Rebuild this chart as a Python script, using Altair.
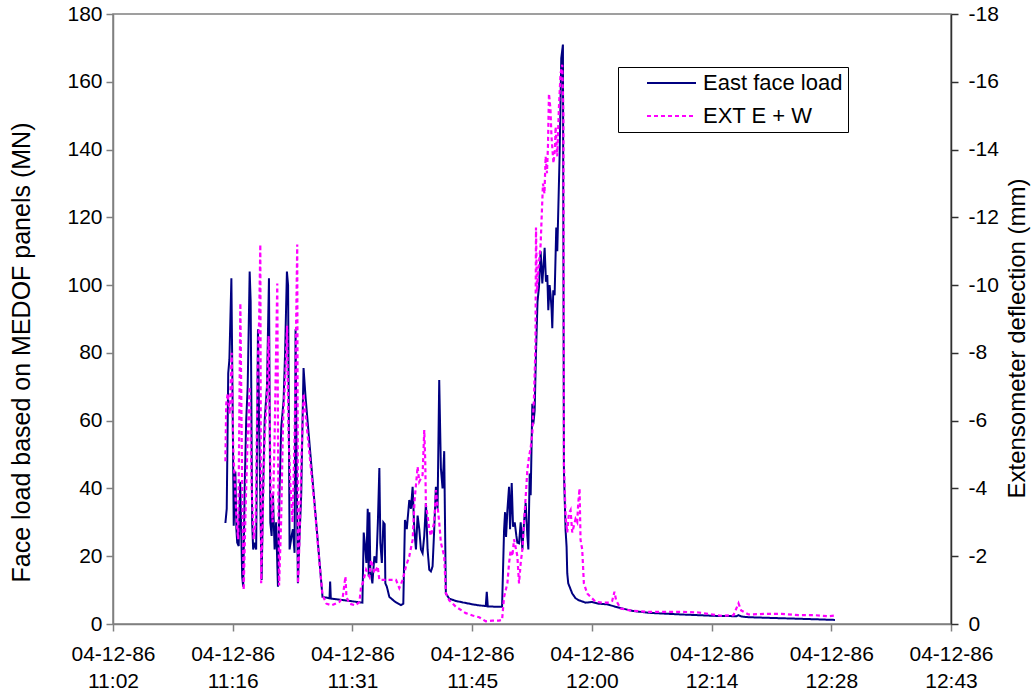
import altair as alt
import pandas as pd

# ---- axis ticks (minutes after 11:00) ----
TICK_TIMES = [2.4, 16.8, 31.2, 45.6, 60.0, 74.4, 88.8, 103.2]
TICK_LABELS = ["11:02", "11:16", "11:31", "11:45", "12:00", "12:14", "12:28", "12:43"]
DATE_LABEL = "04-12-86"
LEFT_TICKS = [0, 20, 40, 60, 80, 100, 120, 140, 160, 180]
RIGHT_TICKS = [-18, -16, -14, -12, -10, -8, -6, -4, -2, 0]

SERIES = ["East face load", "EXT E + W"]
COLORS = ["#000080", "#FF00FF"]

# ---- East face load (MN) ----
LOAD_T = [
    15.92, 16.08, 16.26, 16.40, 16.64, 16.80, 16.92, 17.04, 17.12, 17.24,
    17.34, 17.52, 17.70, 17.94, 18.06, 18.24, 18.42, 18.60, 18.84, 18.96,
    19.14, 19.26, 19.44, 19.62, 19.84, 19.98, 20.16, 20.28, 20.46, 20.64,
    20.92, 21.16, 21.32, 21.48, 21.64, 21.84, 22.02, 22.24, 22.44, 22.64,
    22.92, 23.10, 23.32, 23.46, 23.64, 23.88, 24.04, 24.24, 24.36, 24.48,
    24.64, 24.84, 25.04, 25.20, 25.32, 25.56, 27.60, 28.44, 28.52, 28.60,
    30.24, 32.40, 32.56, 32.76, 32.88, 33.04, 33.16, 33.24, 33.36, 33.60,
    33.84, 34.08, 34.26, 34.44, 34.56, 34.74, 34.92, 35.08, 35.16, 35.34,
    35.64, 36.36, 37.04, 37.32, 37.52, 37.74, 38.04, 38.24, 38.44, 38.64,
    38.84, 39.04, 39.24, 39.44, 39.64, 39.84, 40.04, 40.24, 40.44, 40.64,
    40.84, 41.04, 41.24, 41.44, 41.64, 41.84, 42.04, 42.24, 42.36, 42.44,
    42.84, 43.64, 44.84, 45.64, 46.44, 47.24, 47.36, 47.48, 48.44, 49.20,
    49.44, 49.56, 49.68, 49.84, 50.04, 50.16, 50.36, 50.52, 50.72, 50.92,
    51.04, 51.24, 51.44, 51.64, 51.84, 52.04, 52.24, 52.36, 52.52, 52.64,
    52.84, 52.96, 53.12, 53.28, 53.46, 53.64, 53.84, 54.04, 54.32, 54.48,
    54.64, 54.76, 54.92, 55.04, 55.16, 55.24, 55.36, 55.52, 55.72, 55.84,
    56.12, 56.32, 56.52, 56.64, 56.84, 56.96, 57.04, 57.16, 57.24, 57.64,
    58.04, 58.44, 59.24, 60.04, 60.84, 61.84, 62.84, 64.80, 66.84, 70.84,
    74.84, 77.40, 77.64, 78.00, 78.84, 82.84, 86.84, 89.24,
]
LOAD_MN = [
    29.8, 34, 74, 78, 102, 62, 29, 38, 45, 28,
    24, 23, 42, 14, 11, 40, 60, 70, 104, 95,
    30, 22, 24, 22, 87, 60, 30, 13, 40, 60,
    70, 102, 30, 26, 38, 22, 30, 11, 40, 58,
    66, 80, 104, 100, 22, 26, 28, 21, 87, 50,
    12, 26, 38, 60, 75.5, 67, 8, 7.6, 12.5, 7.5,
    7, 6.3, 27, 22, 18, 34, 14, 33, 16, 12,
    20, 18, 30, 46, 24, 18, 30, 29.5, 12, 11,
    8, 6.5, 5.6, 6, 30.7, 28, 36.6, 34, 40.5, 28,
    22, 32, 28, 22, 20.9, 26, 35.7, 22, 16, 15.5,
    17, 28, 40.5, 34, 72, 46, 40, 51, 25, 9,
    7.5, 6.8, 6.2, 5.8, 5.5, 5.3, 9.5, 5.2, 5.1, 5.1,
    27.7, 33, 25.7, 33.6, 40.5, 28, 41.6, 28.7, 30, 26,
    24, 23.8, 30, 22, 30, 35.7, 26, 22, 44.4, 38,
    65, 59, 63, 80, 95, 99.5, 110, 100.5, 111, 101,
    103, 92.6, 100, 97, 92.6, 87.3, 98.5, 97, 117, 110,
    138, 167, 171, 45, 27.7, 22.8, 15, 12, 11.5, 9,
    7.6, 7, 6.3, 6.5, 6, 5.8, 5.1, 3.9, 3.3, 2.8,
    2.4, 2.3, 2.6, 2.2, 2.0, 1.7, 1.4, 1.2,
]

# ---- Extensometer E + W deflection (mm) ----
EXT_T = [
    15.92, 16.02, 16.20, 16.44, 16.68, 16.86, 17.04, 17.28, 17.46, 17.72,
    17.94, 18.12, 18.36, 18.60, 18.84, 19.08, 19.32, 19.56, 19.80, 19.98,
    20.12, 20.22, 20.40, 20.64, 20.88, 21.12, 21.36, 21.60, 21.84, 22.16,
    22.26, 22.38, 22.62, 22.86, 23.10, 23.34, 23.52, 23.76, 24.00, 24.24,
    24.56, 24.66, 24.84, 25.08, 25.32, 25.56, 26.04, 26.64, 27.24, 27.60,
    28.08, 28.68, 29.64, 30.04, 30.36, 30.48, 30.84, 31.56, 32.04, 32.24,
    32.44, 32.84, 33.24, 33.44, 33.84, 34.24, 34.44, 34.84, 35.64, 36.44,
    36.84, 37.24, 37.64, 38.04, 38.44, 38.68, 39.04, 39.24, 39.64, 39.84,
    39.96, 40.04, 40.24, 40.44, 40.64, 41.04, 41.24, 41.64, 41.84, 42.04,
    42.24, 42.44, 42.84, 43.64, 44.84, 45.64, 46.44, 47.24, 48.04, 48.84,
    49.20, 49.44, 49.64, 49.84, 50.04, 50.24, 50.44, 50.64, 51.04, 51.24,
    51.44, 51.64, 51.84, 52.04, 52.24, 52.44, 52.64, 52.84, 53.04, 53.22,
    53.28, 53.40, 53.58, 53.84, 53.96, 54.12, 54.30, 54.44, 54.60, 54.72,
    54.84, 55.02, 55.14, 55.26, 55.38, 55.56, 55.64, 55.84, 56.04, 56.24,
    56.44, 56.58, 56.64, 56.84, 57.04, 57.24, 57.44, 57.64, 57.84, 58.04,
    58.24, 58.36, 58.52, 58.64, 58.84, 59.04, 59.44, 59.84, 60.44, 61.24,
    62.04, 62.44, 62.72, 62.92, 63.44, 64.80, 66.84, 70.84, 72.84, 74.84,
    75.64, 77.04, 77.64, 77.96, 78.84, 80.84, 82.84, 84.84, 86.84, 88.44,
    89.24,
]
EXT_MM = [
    -4.8, -6.5, -6.8, -6.2, -8.0, -5.2, -4.2, -3.0, -2.5, -9.47,
    -4.0, -1.0, -3.5, -5.5, -7.0, -4.0, -2.5, -3.0, -7.5, -9.0,
    -11.2, -1.2, -3.0, -5.5, -6.5, -8.5, -4.0, -3.0, -5.5, -10.05,
    -5.0, -1.14, -3.0, -6.0, -7.2, -8.8, -5.5, -4.0, -3.0, -5.5,
    -11.2, -1.2, -2.5, -5.0, -6.8, -6.2, -5.0, -3.5, -1.8, -0.85,
    -0.6, -0.55, -0.65, -0.8, -1.4, -0.8, -0.6, -0.55, -0.65, -1.1,
    -1.2, -1.6, -1.4, -1.89, -1.5, -1.7, -1.3, -1.3, -1.3, -1.3,
    -1.06, -1.3, -1.7, -2.0, -2.48, -3.66, -4.64, -4.2, -4.4, -5.72,
    -4.8, -3.5, -3.2, -2.8, -2.6, -3.0, -3.95, -3.0, -2.4, -2.2,
    -2.0, -0.91, -0.7, -0.51, -0.32, -0.25, -0.2, -0.08, -0.1, -0.1,
    -0.12, -0.8, -1.0, -1.2, -1.8, -2.18, -2.0, -2.5, -2.0, -1.2,
    -1.8, -2.2, -2.98, -3.75, -4.54, -4.93, -5.2, -5.63, -6.7, -8.2,
    -11.7, -9.8, -10.5, -11.2, -12.0, -13.0, -12.7, -13.8, -13.3, -14.1,
    -15.65, -15.2, -14.4, -14.0, -13.6, -14.0, -14.67, -13.8, -15.25, -16.25,
    -16.5, -15.0, -4.74, -3.16, -2.7, -3.26, -3.36, -2.7, -2.9, -3.1,
    -3.0, -3.56, -4.0, -2.48, -2.2, -1.2, -0.9, -0.8, -0.66, -0.63,
    -0.63, -0.68, -0.95, -0.7, -0.46, -0.39, -0.36, -0.36, -0.34, -0.27,
    -0.24, -0.26, -0.61, -0.4, -0.28, -0.3, -0.3, -0.26, -0.26, -0.23,
    -0.25,
]

FONT = "Liberation Sans"

load_df = pd.DataFrame({"t": LOAD_T, "v": LOAD_MN, "series": SERIES[0]})
ext_df = pd.DataFrame({"t": EXT_T, "v": EXT_MM, "series": SERIES[1]})

x_label_expr = (
    "['" + DATE_LABEL + "', ["
    + ",".join("'" + s + "'" for s in TICK_LABELS)
    + "][round((datum.value - 2.4) / 14.4)]]"
)

x_enc = alt.X(
    "t:Q",
    scale=alt.Scale(domain=[TICK_TIMES[0], TICK_TIMES[-1]], nice=False, zero=False),
    axis=alt.Axis(
        values=TICK_TIMES, labelExpr=x_label_expr, title=None,
        tickSize=7, labelPadding=12, labelLineHeight=27, labelOverlap=False,
        labelFlush=False, domainColor="#808080", tickColor="#808080",
        domainWidth=1.5, tickWidth=1.5, labelFontSize=21,
    ),
)

legend = alt.Legend(
    title=None, orient="none", legendX=505, legendY=53, direction="vertical",
    symbolType="stroke", symbolSize=2401, symbolStrokeWidth=2,
    labelFontSize=22, labelColor="black", padding=5, symbolOffset=23,
    labelOffset=6, rowPadding=11, strokeColor="black", fillColor="white",
    clipHeight=22,
)

color_enc = alt.Color("series:N", scale=alt.Scale(domain=SERIES, range=COLORS), legend=legend)
dash_enc = alt.StrokeDash("series:N", scale=alt.Scale(domain=SERIES, range=[[1, 0], [4, 3]]), legend=legend)

load_line = alt.Chart(load_df).mark_line(strokeWidth=2).encode(
    x=x_enc,
    y=alt.Y(
        "v:Q",
        scale=alt.Scale(domain=[0, 180], nice=False),
        axis=alt.Axis(
            orient="left", values=LEFT_TICKS, title="Face load based on MEDOF panels (MN)",
            tickSize=7, labelPadding=4, domainColor="#808080", tickColor="#808080",
            domainWidth=1.5, tickWidth=1.5, labelFontSize=21,
            titleAngle=270, titleX=-92, titleY=338, titleAlign="center",
            titleBaseline="middle", titleFontSize=25, titleFontWeight="normal",
        ),
    ),
    color=color_enc,
    strokeDash=dash_enc,
)

ext_line = alt.Chart(ext_df).mark_line(strokeWidth=2.2).encode(
    x=x_enc,
    y=alt.Y(
        "v:Q",
        scale=alt.Scale(domain=[-18, 0], reverse=True, nice=False, zero=False),
        axis=alt.Axis(
            orient="right", values=RIGHT_TICKS, labelExpr="'' + datum.value",
            title="Extensometer deflection (mm)",
            tickSize=7, labelPadding=10, domainColor="#303030", tickColor="#303030",
            domainWidth=1.5, tickWidth=1.5, labelFontSize=21,
            titleAngle=270, titleX=66, titleY=324, titleAlign="center",
            titleBaseline="middle", titleFontSize=24, titleFontWeight="normal",
        ),
    ),
    color=color_enc,
    strokeDash=dash_enc,
)

chart = (
    alt.layer(load_line, ext_line)
    .resolve_scale(y="independent")
    .properties(
        width=838, height=610,
        padding={"left": 113, "top": 14, "right": 81, "bottom": 70},
        autosize=alt.AutoSizeParams(type="none"),
        background="white",
    )
    .configure(font=FONT)
    .configure_view(stroke="#808080", strokeWidth=1.5)
    .configure_axis(grid=False, labelColor="black", titleColor="black")
)

chart.save("out.html", embed_options={"renderer": "svg", "actions": False})
